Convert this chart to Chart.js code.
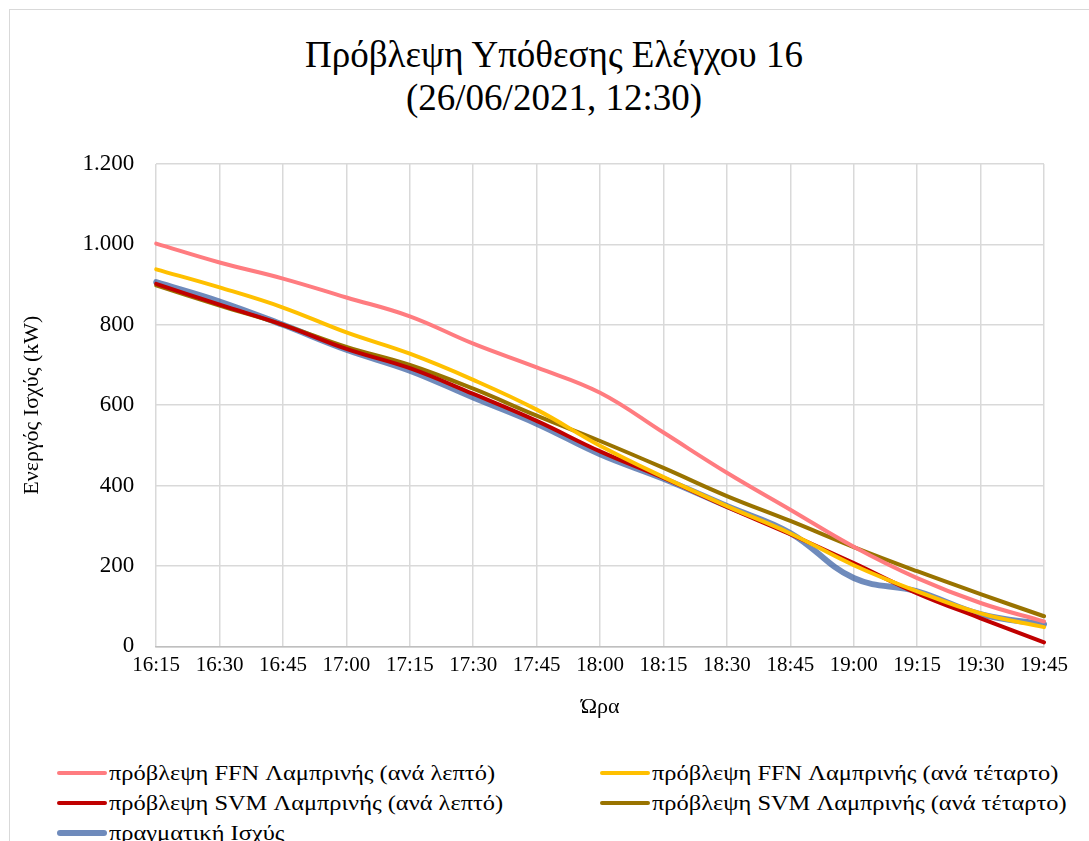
<!DOCTYPE html>
<html>
<head>
<meta charset="utf-8">
<script src="https://cdn.jsdelivr.net/npm/chart.js@4.4.0/dist/chart.umd.min.js"></script>
<style>
  html, body { margin: 0; padding: 0; background: #fff; }
  body { width: 1089px; height: 841px; overflow: hidden; position: relative; font-family: 'Liberation Serif', 'Times New Roman', serif; }
  #frame { position: absolute; left: 9px; top: 9px; width: 1100px; height: 860px; border: 1px solid #d9d9d9; box-sizing: border-box; }
  #title { position: absolute; left: 0; top: 34px; width: 1108px; text-align: center; font-size: 37px; line-height: 42.5px; color: #000; }
  #wrap { position: absolute; left: 0; top: 0; width: 1089px; height: 740px; }
  #legend { position: absolute; left: 0; top: 758px; width: 1089px; }
  .item { position: absolute; height: 30px; display: flex; align-items: center; font-size: 22px; color: #000; white-space: nowrap; }
  .swatch { width: 50px; border-radius: 3px; margin-right: 2px; flex: none; }
  .txt { display: inline-block; transform: scaleX(1.11); transform-origin: left center; }
</style>
</head>
<body>
<div id="frame"></div>
<div id="title">Πρόβλεψη Υπόθεσης Ελέγχου 16<br>(26/06/2021, 12:30)</div>
<div id="wrap"><canvas id="chart"></canvas></div>
<div id="legend"></div>
<script>
var times = ['16:15', '16:30', '16:45', '17:00', '17:15', '17:30', '17:45', '18:00',
  '18:15', '18:30', '18:45', '19:00', '19:15', '19:30', '19:45'];

var ffnMinute = [1002, 955, 915, 868, 821, 753, 694, 631, 532, 432, 340, 248, 170, 108, 62];
var ffnQuarter = [938, 893, 843, 781, 728, 663, 589, 499, 421, 349, 281, 202, 137, 82, 48];
var svmMinute = [902, 850, 800, 740, 692, 628, 561, 485, 419, 347, 279, 207, 132, 70, 10];
var svmQuarter = [898, 848, 800, 745, 700, 641, 574, 511, 444, 374, 312, 247, 187, 130, 75];
var actualPower = [906, 858, 800, 738, 686, 619, 554, 478, 417, 349, 282, 170, 137, 80, 55];

var seriesNames = [
  'πρόβλεψη FFN Λαμπρινής (ανά λεπτό)',
  'πρόβλεψη FFN Λαμπρινής (ανά τέταρτο)',
  'πρόβλεψη SVM Λαμπρινής (ανά λεπτό)',
  'πρόβλεψη SVM Λαμπρινής (ανά τέταρτο)',
  'πραγματική Ισχύς'
];

var serif = "'Liberation Serif', 'Times New Roman', serif";

function line(label, data, color, width) {
  return {
    label: label,
    data: data,
    borderColor: color,
    backgroundColor: color,
    borderWidth: width,
    pointRadius: 0,
    tension: 0.4,
    borderCapStyle: 'round',
    borderJoinStyle: 'round',
    fill: false
  };
}

var datasets = [
  line(seriesNames[0], ffnMinute, '#ff7c80', 4),
  line(seriesNames[1], ffnQuarter, '#ffc000', 4),
  line(seriesNames[2], svmMinute, '#c00000', 4),
  line(seriesNames[3], svmQuarter, '#997300', 4),
  line(seriesNames[4], actualPower, 'rgba(50,90,160,0.7)', 6)
];

var chart = new Chart(document.getElementById('chart').getContext('2d'), {
  type: 'line',
  data: { labels: times, datasets: datasets },
  options: {
    responsive: true,
    maintainAspectRatio: false,
    animation: false,
    layout: { padding: { left: 16, right: 45, top: 164, bottom: 16 } },
    plugins: {
      legend: { display: false },
      tooltip: { enabled: false },
      title: { display: false }
    },
    scales: {
      x: {
        offset: false,
        grid: { color: '#d9d9d9', lineWidth: 1.5, drawTicks: false },
        border: { color: '#bfbfbf', width: 1.5 },
        ticks: { color: '#000', font: { family: serif, size: 21 }, padding: 6, maxRotation: 0, autoSkip: false },
        title: { display: true, text: 'Ώρα', color: '#000', font: { family: serif, size: 22 }, padding: { top: 10, bottom: 4 } }
      },
      y: {
        min: 0,
        max: 1200,
        grid: { color: '#d9d9d9', lineWidth: 1.5, drawTicks: false },
        border: { display: false },
        ticks: {
          stepSize: 200,
          color: '#000',
          font: { family: serif, size: 23 },
          padding: 22,
          callback: function (v) { return v.toLocaleString('de-DE'); }
        },
        title: { display: true, text: 'Ενεργός Ισχύς (kW)', color: '#000', font: { family: serif, size: 22 }, padding: { top: 3, bottom: 15 } }
      }
    }
  }
});

// legend in two columns, like the original
function buildLegend() {
  var box = document.getElementById('legend');
  var cols = [57, 600];
  chart.data.datasets.forEach(function (ds, i) {
    var item = document.createElement('div');
    item.className = 'item';
    item.style.left = cols[i % 2] + 'px';
    item.style.top = (Math.floor(i / 2) * 30) + 'px';
    var sw = document.createElement('span');
    sw.className = 'swatch';
    sw.style.height = (i === 4 ? 6 : 4) + 'px';
    sw.style.background = i === 4 ? '#6f8bbc' : ds.borderColor;
    var tx = document.createElement('span');
    tx.className = 'txt';
    tx.textContent = ds.label;
    item.appendChild(sw);
    item.appendChild(tx);
    box.appendChild(item);
  });
}
buildLegend();
</script>
</body>
</html>
